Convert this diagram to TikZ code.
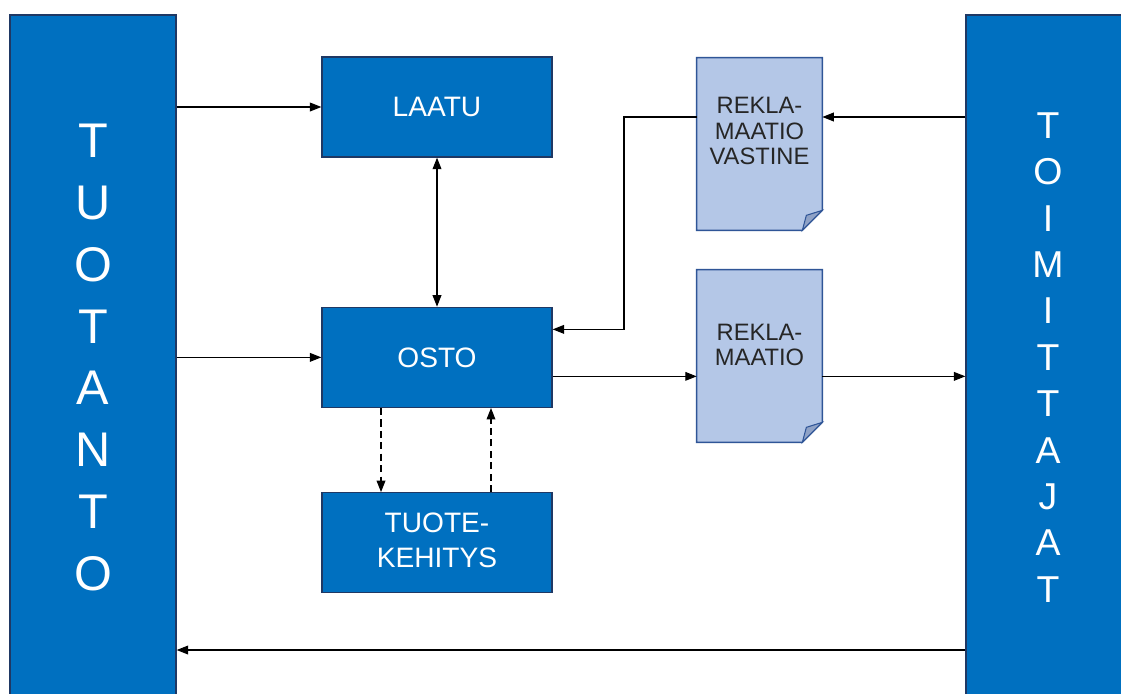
\documentclass[tikz,border=0pt]{standalone}
\usepackage{fontspec}
\setmainfont{Liberation Sans}
\usetikzlibrary{positioning,arrows.meta,backgrounds}
\definecolor{boxblue}{RGB}{0,112,192}
\definecolor{boxline}{RGB}{31,56,100}
\definecolor{docblue}{RGB}{180,199,231}
\definecolor{docline}{RGB}{47,85,151}
\definecolor{foldblue}{RGB}{143,162,198}

\begin{document}
\begin{tikzpicture}[
        x=0.02cm, y=-0.02cm,
        box/.style = {draw=boxline, fill=boxblue, line width=0.8pt, text=white,
                      align=center, minimum width=4.6cm, minimum height=2cm,
                      font=\fontsize{16}{20.4}\selectfont},
        bar/.style = {draw=boxline, fill=boxblue, line width=0.8pt, text=white,
                      align=center, minimum height=13.7cm},
        doc/.style = {minimum width=2.5cm, minimum height=3.44cm},
        doctext/.style = {align=center, text=black!85, font=\fontsize{13.5}{14.7}\selectfont},
        tip/.tip = {Triangle[length=6.5pt,width=5pt]},
        arr/.style = {-tip, line width=0.6pt},
        dasharr/.style = {arr, dash pattern=on 4pt off 2.5pt}]
        \clip (0,0) rectangle (1121,693);
        \useasboundingbox (0,0) rectangle (1121,693);
        % NODES
        % production bar
        \node[bar, minimum width=3.32cm, font=\fontsize{27.7}{35.2}\selectfont] (tuo) at (93,357.5)
            {T\\U\\O\\T\\A\\N\\T\\O};
        % suppliers bar
        \node[bar, minimum width=3.28cm, font=\fontsize{21.3}{26.4}\selectfont] (toim) at (1048,357.5)
            {T\\O\\I\\M\\I\\T\\T\\A\\J\\A\\T};
        % quality
        \node[box] (laatu) at (437,107) {LAATU};
        % purchasing
        \node[box, below = 2.98cm of laatu] (osto) {OSTO};
        % product development
        \node[box, below = 1.68cm of osto, text depth=0.1cm] (kehitys) {TUOTE-\\KEHITYS};
        % response document
        \node[doc, label={[doctext, yshift=0.26cm]center:REKLA-\\MAATIO\\VASTINE}] (vastine) at (759.5,144) {};
        % complaint document
        \node[doc, label={[doctext, yshift=0.22cm]center:REKLA-\\MAATIO}] (rekla) at (759.5,356) {};

        % document outlines
        \begin{scope}[on background layer]
            \fill[white] (0,0) rectangle (1121,693);
            \foreach \d in {vastine, rekla} {
                \draw[docline, fill=docblue, line width=0.8pt]
                    (\d.north west) -- (\d.north east) -- ([yshift=0.4cm]\d.south east)
                    -- ([xshift=-0.4cm]\d.south east) -- (\d.south west) -- cycle;
                \draw[docline, fill=foldblue, line width=0.6pt]
                    ([xshift=-0.4cm]\d.south east) -- ([xshift=-0.32cm, yshift=0.3cm]\d.south east)
                    -- ([yshift=0.4cm]\d.south east) -- cycle;
            }
        \end{scope}

        % ARROWS
        \draw[arr] (laatu.west -| tuo.east) -- (laatu.west);
        \draw[arr] (osto.west -| tuo.east) -- (osto.west);
        \draw[arr, tip-tip] (laatu.south) -- (laatu.south |- osto.north);
        \coordinate (v1) at ([yshift=0.54cm]vastine.east);
        \draw[arr] (v1 -| toim.west) -- (v1);
        \coordinate (v2) at ([yshift=0.54cm]vastine.west);
        \coordinate (o1) at ([yshift=0.56cm]osto.east);
        \draw[arr] (v2) -- (624,0 |- v2) -- (624,0 |- o1) -- (o1);
        \coordinate (o2) at ([yshift=-0.38cm]osto.east);
        \draw[arr] (o2) -- (o2 -| rekla.west);
        \draw[arr] (o2 -| rekla.east) -- (o2 -| toim.west);
        \coordinate (t1) at (0,650);
        \draw[arr] (t1 -| toim.west) -- (t1 -| tuo.east);
        \draw[dasharr] ([xshift=-1.12cm]osto.south) -- ([xshift=-1.12cm]kehitys.north);
        \draw[dasharr] ([xshift=1.08cm]kehitys.north) -- ([xshift=1.08cm]osto.south);
    \end{tikzpicture}
\end{document}
